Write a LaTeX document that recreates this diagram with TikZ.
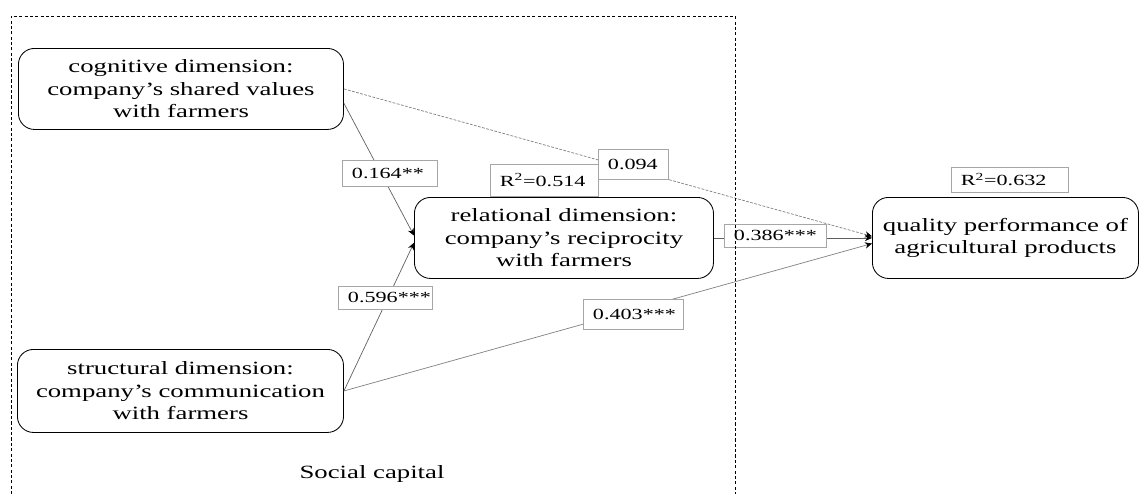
\documentclass[tikz,border=0pt]{standalone}
\usepackage{fontspec}
\setmainfont{Liberation Serif}[FakeStretch=1.43]
\usetikzlibrary{arrows.meta}

\tikzset{
    dimbox/.style={draw, line width=0.6pt, rounded corners=0.4cm, align=center,
        inner sep=0pt, anchor=north west, font=\fontsize{13.3}{16}\selectfont},
    coef/.style={draw=gray!70, fill=white, line width=0.5pt, inner xsep=0.25cm,
        inner ysep=0pt, text width=#1, align=left, font=\fontsize{11}{13}\selectfont},
    link/.style={draw=gray!75!black, line width=0.5pt,
        -{Stealth[length=5pt,width=4.5pt,color=black]}}
}

\begin{document}
\begin{tikzpicture}[x=0.025cm, y=-0.025cm]
    \useasboundingbox (0,0) rectangle (1140,494);
    % Draw the four dimension boxes
    \node[dimbox, minimum width=8.125cm, minimum height=2.025cm] (cog) at (18,48)
        {cognitive dimension:\\company's shared values\\with farmers};
    \node[dimbox, minimum width=8.15cm, minimum height=2.075cm] (str) at (17,349)
        {structural dimension:\\company's communication\\with farmers};
    \node[dimbox, minimum width=7.475cm, minimum height=2.025cm] (rel) at (414,197)
        {relational dimension:\\company's reciprocity\\with farmers};
    \node[dimbox, minimum width=6.65cm, minimum height=2.025cm] (qual) at (872,197)
        {quality performance of\\agricultural products};
    % Draw the paths
    \draw[link] ([yshift=-0.36cm]cog.east) -- ([yshift=0.06cm]rel.west);
    \draw[link] (str.east) -- ([yshift=-0.12cm]rel.west);
    \draw[link, dash pattern=on 2pt off 1pt, draw=gray] (cog.east) -- ([yshift=0.04cm]qual.west);
    \draw[link] (rel.east) -- (qual.west);
    \draw[link, draw=gray] (str.east) -- ([yshift=-0.14cm]qual.west);
    % Label the coefficients
    \node[coef=1.875cm, minimum height=0.65cm] (c164) at (389.5,173.5) {0.164**};
    \node[coef=1.85cm, minimum height=0.575cm] (c596) at (385,297.5) {0.596***};
    \node[coef=1.25cm, minimum height=0.75cm] (c094) at (633,164) {0.094};
    \node[coef=2cm, minimum height=0.75cm] (c403) at (633,314) {0.403***};
    \node[coef=2.05cm, minimum height=0.575cm] (c386) at (775,235.5) {0.386***};
    \node[coef=2.2cm, minimum height=0.8cm] (rsq1) at (544,180) {R\textsuperscript{2}=0.514};
    \node[coef=2.425cm, minimum height=0.625cm] (rsq2) at (1009.5,179.5) {R\textsuperscript{2}=0.632};
    % Draw the social capital frame
    \draw[line width=0.6pt, dash pattern=on 2.2pt off 1.6pt] (11,494) -- (11,16) -- (735,16) -- (735,494);
    \node[font=\fontsize{13.3}{16}\selectfont] (soc) at (372,474) {Social capital};
\end{tikzpicture}
\end{document}
